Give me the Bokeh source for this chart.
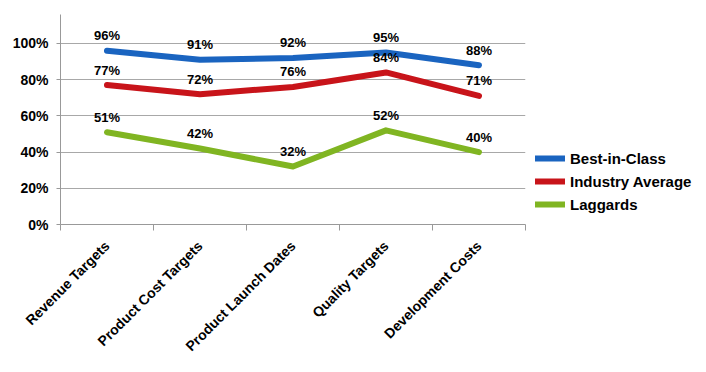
import numpy as np
from bokeh.plotting import figure
from bokeh.models import (Range1d, FixedTicker, PrintfTickFormatter, Legend, LegendItem,
                          ColumnDataSource)
from bokeh.core.properties import value
from bokeh.embed import file_html
from bokeh.resources import INLINE

categories = ["Revenue Targets", "Product Cost Targets", "Product Launch Dates",
              "Quality Targets", "Development Costs"]
series_names = ["Best-in-Class", "Industry Average", "Laggards"]
best_in_class = [96, 91, 92, 95, 88]
industry_average = [77, 72, 76, 84, 71]
laggards = [51, 42, 32, 52, 40]
y_ticks = [0, 20, 40, 60, 80, 100]

colors = ["#1a64c0", "#c8141a", "#80b522"]
FONT = "Liberation Sans"

p = figure(frame_width=465, frame_height=210, output_backend="svg", toolbar_location=None,
           x_range=Range1d(0, len(categories)), y_range=Range1d(0, 116),
           min_border_left=60, min_border_right=10, min_border_top=14, min_border_bottom=148)
p.outline_line_color = None
p.background_fill_color = "white"
p.border_fill_color = "white"

x = np.arange(len(categories)) + 0.5

# x axis
xa = p.xaxis[0]
xa.ticker = FixedTicker(ticks=list(x), minor_ticks=list(range(len(categories) + 1)))
xa.major_label_overrides = {float(v): c for v, c in zip(x, categories)}
xa.major_label_orientation = np.pi / 4
xa.major_tick_out = 0
xa.major_tick_in = 0
xa.minor_tick_out = 6
xa.minor_tick_in = 0
xa.minor_tick_line_color = "#999999"
xa.axis_line_color = "#999999"
xa.major_label_text_font = FONT
xa.major_label_text_font_style = "bold"
xa.major_label_text_font_size = "14px"
xa.major_label_text_color = "black"
xa.major_label_standoff = 13

# y axis
ya = p.yaxis[0]
ya.ticker = FixedTicker(ticks=y_ticks)
ya.formatter = PrintfTickFormatter(format="%d%%")
ya.major_tick_out = 4
ya.major_tick_in = 0
ya.minor_tick_line_color = None
ya.major_tick_line_color = "#999999"
ya.axis_line_color = "#999999"
ya.major_label_text_font = FONT
ya.major_label_text_font_style = "bold"
ya.major_label_text_font_size = "14px"
ya.major_label_text_color = "black"
ya.major_label_standoff = 8

p.xgrid.grid_line_color = None
p.ygrid.ticker = FixedTicker(ticks=y_ticks)
p.ygrid.grid_line_color = "#a8a8a8"
p.ygrid.grid_line_width = 1

items = []
for name, vals, col in zip(series_names, [best_in_class, industry_average, laggards], colors):
    src = ColumnDataSource(dict(x=x, y=vals, lab=[f"{v}%" for v in vals]))
    r = p.line("x", "y", source=src, line_color=col, line_width=6,
               line_cap="round", line_join="round")
    p.text("x", "y", text="lab", source=src, y_offset=-15,
           text_align="center", text_baseline="middle",
           text_font=value(FONT), text_font_style="bold",
           text_font_size="13px", text_color="black")
    items.append(LegendItem(label=name, renderers=[r]))

legend = Legend(items=items, location="bottom_left", padding=0, margin=10,
                border_line_color=None, background_fill_alpha=0,
                glyph_width=30, glyph_height=20, label_height=20, spacing=3,
                label_standoff=5,
                label_text_font=FONT, label_text_font_style="bold",
                label_text_font_size="15px", label_text_color="black")
p.add_layout(legend, "right")

open("out.html", "w").write(file_html(p, INLINE))
